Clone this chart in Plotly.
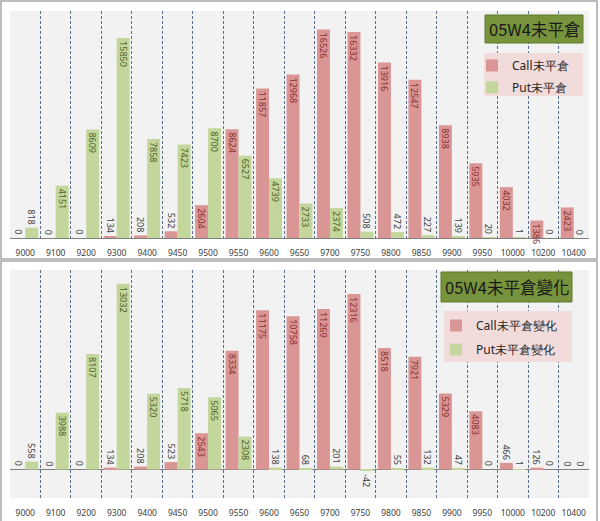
import plotly.graph_objects as go

W, H = 600, 521

strikes = ["9000", "9100", "9200", "9300", "9400", "9450", "9500", "9550", "9600", "9650",
           "9700", "9750", "9800", "9850", "9900", "9950", "10000", "10200", "10400"]

oi_call = [0, 0, 0, 134, 208, 532, 2604, 8624, 11857, 12968,
           16526, 16332, 13916, 12547, 8938, 5935, 4032, 1386, 2423]
oi_put = [818, 4151, 8609, 15850, 7858, 7423, 8700, 6527, 4739, 2733,
          2374, 508, 472, 227, 139, 20, 1, 0, 0]

chg_call = [0, 0, 0, 134, 208, 523, 2543, 8334, 11175, 10758,
            11269, 12316, 8518, 7921, 5329, 4083, 466, 126, 0]
chg_put = [558, 3988, 8107, 13032, 5320, 5718, 5065, 2308, 138, 68,
           201, -42, 55, 132, 47, 0, 1, 0, 0]

title_top = "05W4未平倉"
title_bot = "05W4未平倉變化"
names_top = ["Call未平倉", "Put未平倉"]
names_bot = ["Call未平倉變化", "Put未平倉變化"]

CALL = "#d99694"
PUT = "#c3d69b"
CALL_TXT = "#8c2f2f"
PUT_TXT = "#4f6228"
OUT_TXT = "#404040"
FONT = "Noto Sans"


def px_x(p):
    return p / W


def px_y(p):
    return 1 - p / H


def bar(name, x, y, color, txtcolor, xa, ya, legend, group):
    return go.Bar(
        name=name, x=x, y=y, marker=dict(color=color, line=dict(width=0)),
        text=[str(v) for v in y], textposition="auto", textangle=90,
        insidetextanchor="end", constraintext="none",
        insidetextfont=dict(color=txtcolor, size=9, family=FONT),
        outsidetextfont=dict(color=OUT_TXT, size=9, family=FONT),
        cliponaxis=False, xaxis=xa, yaxis=ya, legend=legend, legendgroup=group,
        hoverinfo="skip",
    )


fig = go.Figure()
fig.add_trace(bar(names_top[0], strikes, oi_call, CALL, CALL_TXT, "x", "y", "legend", "a"))
fig.add_trace(bar(names_top[1], strikes, oi_put, PUT, PUT_TXT, "x", "y", "legend", "b"))
fig.add_trace(bar(names_bot[0], strikes, chg_call, CALL, CALL_TXT, "x2", "y2", "legend2", "c"))
fig.add_trace(bar(names_bot[1], strikes, chg_put, PUT, PUT_TXT, "x2", "y2", "legend2", "d"))

# zero-valued bars get their "0" labels (Plotly omits text on zero-height bars);
# positioned by category index on the same axes
for series, xa, ya, shift in [(oi_call, "x", "y", -6.5), (oi_put, "x", "y", 6.5),
                              (chg_call, "x2", "y2", -6.5), (chg_put, "x2", "y2", 6.5)]:
    for i, v in enumerate(series):
        if v == 0:
            fig.add_annotation(x=i, y=v, xref=xa, yref=ya, text=str(v), showarrow=False,
                               textangle=90, xanchor="center", yanchor="middle",
                               xshift=shift, yshift=6,
                               font=dict(size=9, color=OUT_TXT, family=FONT))

xcommon = dict(
    type="category", tickson="boundaries", showgrid=True, gridcolor="#5a6f8c",
    griddash="3px,2px", gridwidth=1, showline=False, zeroline=False,
    ticks="", ticklabelstandoff=8, tickangle=0,
    range=[-0.5, len(strikes) - 0.5], autorange=False,
    tickfont=dict(size=8.5, color="#404040", family=FONT),
    domain=[px_x(10), px_x(589)], fixedrange=True,
)
ycommon = dict(showticklabels=False, showgrid=False, zeroline=True,
               zerolinecolor="#7f7f7f", zerolinewidth=1, ticks="", fixedrange=True)

fig.update_layout(
    width=W, height=H, margin=dict(l=0, r=0, t=0, b=0, autoexpand=False),
    paper_bgcolor="white", plot_bgcolor="#f2f2f2",
    barmode="group", bargap=0.15, bargroupgap=0,
    font=dict(family=FONT),
    xaxis=dict(anchor="y", **xcommon),
    yaxis=dict(anchor="x", domain=[px_y(238), px_y(11)], range=[0, 18000], **ycommon),
    xaxis2=dict(anchor="y2", **xcommon),
    yaxis2=dict(anchor="x2", domain=[px_y(498), px_y(270)], range=[-2000, 14000], **ycommon),
    legend=dict(x=px_x(472), y=px_y(51), xanchor="left", yanchor="top",
                bgcolor="rgba(0,0,0,0)", font=dict(size=12, color="#262626", family=FONT),
                itemwidth=30, tracegroupgap=3),
    legend2=dict(x=px_x(436), y=px_y(311), xanchor="left", yanchor="top",
                 bgcolor="rgba(0,0,0,0)", font=dict(size=12, color="#262626", family=FONT),
                 itemwidth=30, tracegroupgap=5),
    showlegend=True,
)

shapes = [
    dict(type="rect", xref="paper", yref="paper", x0=px_x(1), x1=px_x(597),
         y0=px_y(259), y1=px_y(1), line=dict(color="#a6a6a6", width=1.5)),
    dict(type="rect", xref="paper", yref="paper", x0=px_x(1), x1=px_x(597),
         y0=px_y(530), y1=px_y(261), line=dict(color="#a6a6a6", width=1.5)),
    dict(type="rect", xref="paper", yref="paper", x0=px_x(484), x1=px_x(583),
         y0=px_y(96), y1=px_y(53), fillcolor="#f2dcdb", line=dict(width=0), layer="above"),
    dict(type="rect", xref="paper", yref="paper", x0=px_x(444), x1=px_x(572),
         y0=px_y(362), y1=px_y(311), fillcolor="#f2dcdb", line=dict(width=0), layer="above"),
    dict(type="rect", xref="paper", yref="paper", x0=px_x(485), x1=px_x(583),
         y0=px_y(43), y1=px_y(15), fillcolor="#77933c", line=dict(color="#5f7a2e", width=1),
         layer="above"),
    dict(type="rect", xref="paper", yref="paper", x0=px_x(441), x1=px_x(572),
         y0=px_y(302), y1=px_y(272), fillcolor="#77933c", line=dict(color="#5f7a2e", width=1),
         layer="above"),
]
fig.update_layout(shapes=shapes)

fig.add_annotation(text=title_top, xref="paper", yref="paper",
                   x=px_x(534), y=px_y(29), xanchor="center", yanchor="middle",
                   showarrow=False,
                   font=dict(size=16.5, color="#1a1a1a", family="Noto Sans CJK TC"))
fig.add_annotation(text=title_bot, xref="paper", yref="paper",
                   x=px_x(506.5), y=px_y(287), xanchor="center", yanchor="middle",
                   showarrow=False,
                   font=dict(size=16.5, color="#1a1a1a", family="Noto Sans CJK TC"))

fig.write_html("out.html", config={"displayModeBar": False},
               post_script="document.body.style.margin='0';document.body.style.overflow='hidden';")
